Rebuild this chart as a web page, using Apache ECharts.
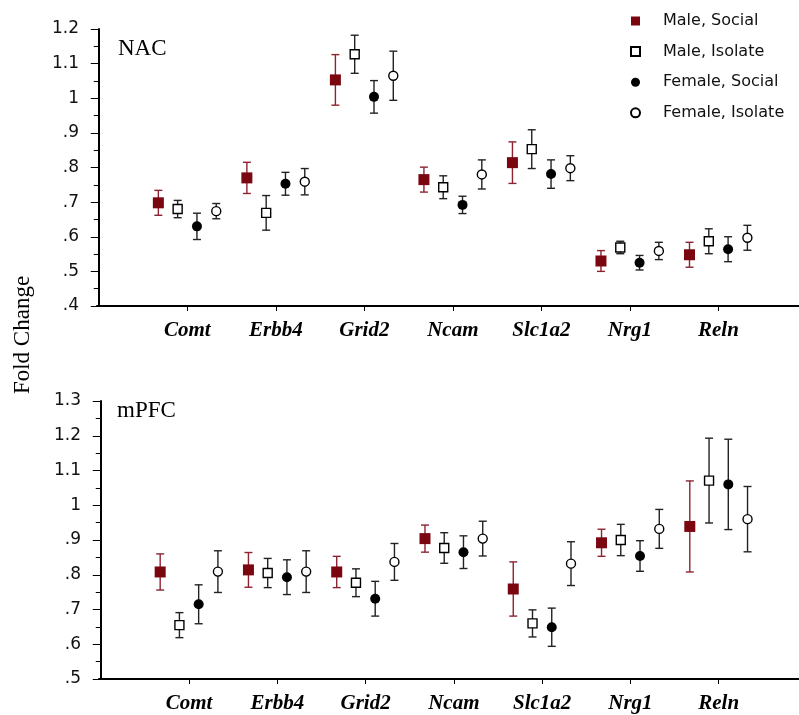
<!DOCTYPE html>
<html>
<head>
<meta charset="utf-8">
<script src="https://cdn.jsdelivr.net/npm/echarts@6/dist/echarts.min.js"></script>
<style>
  html, body { margin: 0; padding: 0; background: #fff; }
  #chart { width: 799px; height: 715px; }
</style>
</head>
<body>
<div id="chart"></div>
<script>
// genes along the x axis
var genes = ["Comt", "Erbb4", "Grid2", "Ncam", "Slc1a2", "Nrg1", "Reln"];
var groupNames = ["Male, Social", "Male, Isolate", "Female, Social", "Female, Isolate"];

// NAC panel: mean fold change and error
var nacMaleSocial = [0.698, 0.770, 1.053, 0.765, 0.814, 0.530, 0.548];
var nacMaleSocialErr = [0.036, 0.045, 0.073, 0.036, 0.060, 0.030, 0.036];
var nacMaleIsolate = [0.680, 0.669, 1.127, 0.743, 0.853, 0.569, 0.587];
var nacMaleIsolateErr = [0.025, 0.050, 0.055, 0.033, 0.056, 0.018, 0.036];
var nacFemaleSocial = [0.630, 0.753, 1.004, 0.692, 0.781, 0.525, 0.564];
var nacFemaleSocialErr = [0.038, 0.033, 0.047, 0.025, 0.041, 0.021, 0.036];
var nacFemaleIsolate = [0.674, 0.759, 1.065, 0.780, 0.798, 0.559, 0.597];
var nacFemaleIsolateErr = [0.022, 0.038, 0.071, 0.042, 0.036, 0.025, 0.036];

// mPFC panel
var pfcMaleSocial = [0.808, 0.814, 0.808, 0.904, 0.759, 0.892, 0.939];
var pfcMaleSocialErr = [0.052, 0.050, 0.045, 0.039, 0.078, 0.039, 0.131];
var pfcMaleIsolate = [0.655, 0.805, 0.777, 0.877, 0.660, 0.900, 1.071];
var pfcMaleIsolateErr = [0.036, 0.042, 0.040, 0.044, 0.039, 0.045, 0.122];
var pfcFemaleSocial = [0.715, 0.793, 0.731, 0.865, 0.649, 0.854, 1.060];
var pfcFemaleSocialErr = [0.056, 0.050, 0.050, 0.047, 0.055, 0.044, 0.130];
var pfcFemaleIsolate = [0.809, 0.809, 0.837, 0.904, 0.832, 0.932, 0.960];
var pfcFemaleIsolateErr = [0.060, 0.060, 0.053, 0.050, 0.063, 0.056, 0.094];

var nacTicks = [0.4, 1.2];
var pfcTicks = [0.5, 1.3];

var chart = echarts.init(document.getElementById("chart"));

// side-by-side offset of each group inside a gene slot
var offsets = [-0.327, -0.109, 0.109, 0.327];
var darkRed = "#7a0710";
var barRed = "#8e2330";

var markerStyles = [
  { symbol: "rect", symbolSize: 11, itemStyle: { color: darkRed, opacity: 1 } },
  { symbol: "rect", symbolSize: 9, itemStyle: { color: "#fff", borderColor: "#000", borderWidth: 1.4, opacity: 1 } },
  { symbol: "circle", symbolSize: 10, itemStyle: { color: "#000", opacity: 1 } },
  { symbol: "circle", symbolSize: 9, itemStyle: { color: "#fff", borderColor: "#000", borderWidth: 1.4, opacity: 1 } }
];
var barColors = [barRed, "#222", "#222", "#222"];

function errorBar(color) {
  return function (params, api) {
    var x = api.value(0);
    var top = api.coord([x, api.value(2)]);
    var bot = api.coord([x, api.value(1)]);
    var hw = 4;
    var st = { stroke: color, lineWidth: 1.4, fill: null };
    return {
      type: "group",
      children: [
        { type: "line", shape: { x1: top[0], y1: top[1], x2: bot[0], y2: bot[1] }, style: st },
        { type: "line", shape: { x1: top[0] - hw, y1: top[1], x2: top[0] + hw, y2: top[1] }, style: st },
        { type: "line", shape: { x1: bot[0] - hw, y1: bot[1], x2: bot[0] + hw, y2: bot[1] }, style: st }
      ]
    };
  };
}

function panelSeries(axisIdx, means, errs) {
  var out = [];
  for (var g = 0; g < 4; g++) {
    var bars = [], pts = [];
    for (var i = 0; i < genes.length; i++) {
      var x = i + 1 + offsets[g];
      bars.push([x, means[g][i] - errs[g][i], means[g][i] + errs[g][i]]);
      pts.push([x, means[g][i]]);
    }
    out.push({
      type: "custom",
      xAxisIndex: axisIdx,
      yAxisIndex: axisIdx,
      renderItem: errorBar(barColors[g]),
      encode: { x: 0, y: [1, 2] },
      data: bars,
      z: 2,
      silent: true
    });
    out.push(Object.assign({
      name: groupNames[g],
      type: "scatter",
      xAxisIndex: axisIdx,
      yAxisIndex: axisIdx,
      data: pts,
      z: 3
    }, markerStyles[g]));
  }
  return out;
}

function xAxisFor(idx) {
  return {
    type: "value",
    gridIndex: idx,
    min: -0.02,
    max: 7.91,
    splitLine: { show: false },
    axisLine: { lineStyle: { color: "#000", width: 2 } },
    axisTick: { customValues: [1, 2, 3, 4, 5, 6, 7], length: 5, lineStyle: { color: "#000", width: 1 } },
    axisLabel: {
      customValues: [1, 2, 3, 4, 5, 6, 7],
      formatter: function (v) { return genes[Math.round(v) - 1]; },
      margin: 14,
      fontFamily: "Liberation Serif",
      fontStyle: "italic",
      fontWeight: "bold",
      fontSize: 21,
      color: "#000"
    }
  };
}

function yAxisFor(idx, range) {
  return {
    type: "value",
    gridIndex: idx,
    min: range[0],
    max: range[1],
    interval: 0.1,
    splitLine: { show: false },
    axisLine: { show: true, lineStyle: { color: "#000", width: 2 } },
    axisTick: { show: true, length: 8, lineStyle: { color: "#000", width: 1 } },
    minorTick: { show: true, splitNumber: 2, length: 5, lineStyle: { color: "#000", width: 1 } },
    axisLabel: {
      margin: 18,
      fontFamily: "DejaVu Sans",
      fontSize: 17,
      color: "#111",
      formatter: function (v) {
        return (Math.round(v * 10) / 10).toString().replace(/^0/, "");
      }
    }
  };
}

var series = []
  .concat(panelSeries(0,
    [nacMaleSocial, nacMaleIsolate, nacFemaleSocial, nacFemaleIsolate],
    [nacMaleSocialErr, nacMaleIsolateErr, nacFemaleSocialErr, nacFemaleIsolateErr]))
  .concat(panelSeries(1,
    [pfcMaleSocial, pfcMaleIsolate, pfcFemaleSocial, pfcFemaleIsolate],
    [pfcMaleSocialErr, pfcMaleIsolateErr, pfcFemaleSocialErr, pfcFemaleIsolateErr]));

var option = {
  backgroundColor: "#fff",
  animation: false,
  grid: [
    { left: 97, right: 0, top: 29, height: 277 },
    { left: 99, right: 0, top: 401, height: 278 }
  ],
  xAxis: [xAxisFor(0), xAxisFor(1)],
  yAxis: [yAxisFor(0, nacTicks), yAxisFor(1, pfcTicks)],
  legend: {
    data: groupNames,
    orient: "vertical",
    left: 630,
    top: 13,
    padding: 0,
    itemWidth: 9,
    itemHeight: 9,
    itemGap: 14.6,
    selectedMode: false,
    textStyle: {
      fontFamily: "DejaVu Sans",
      fontSize: 16,
      lineHeight: 16,
      color: "#111",
      padding: [0, 0, 0, 18]
    }
  },
  graphic: [
    {
      type: "text", left: 118, top: 37,
      style: { text: "NAC", font: "23px 'Liberation Serif'", fill: "#000" }
    },
    {
      type: "text", left: 117, top: 399,
      style: { text: "mPFC", font: "23px 'Liberation Serif'", fill: "#000" }
    },
    {
      type: "text", x: 23, y: 335, rotation: Math.PI / 2,
      style: {
        text: "Fold Change", font: "23px 'Liberation Serif'", fill: "#000",
        align: "center", verticalAlign: "middle"
      }
    }
  ],
  series: series
};

chart.setOption(option);
</script>
</body>
</html>
